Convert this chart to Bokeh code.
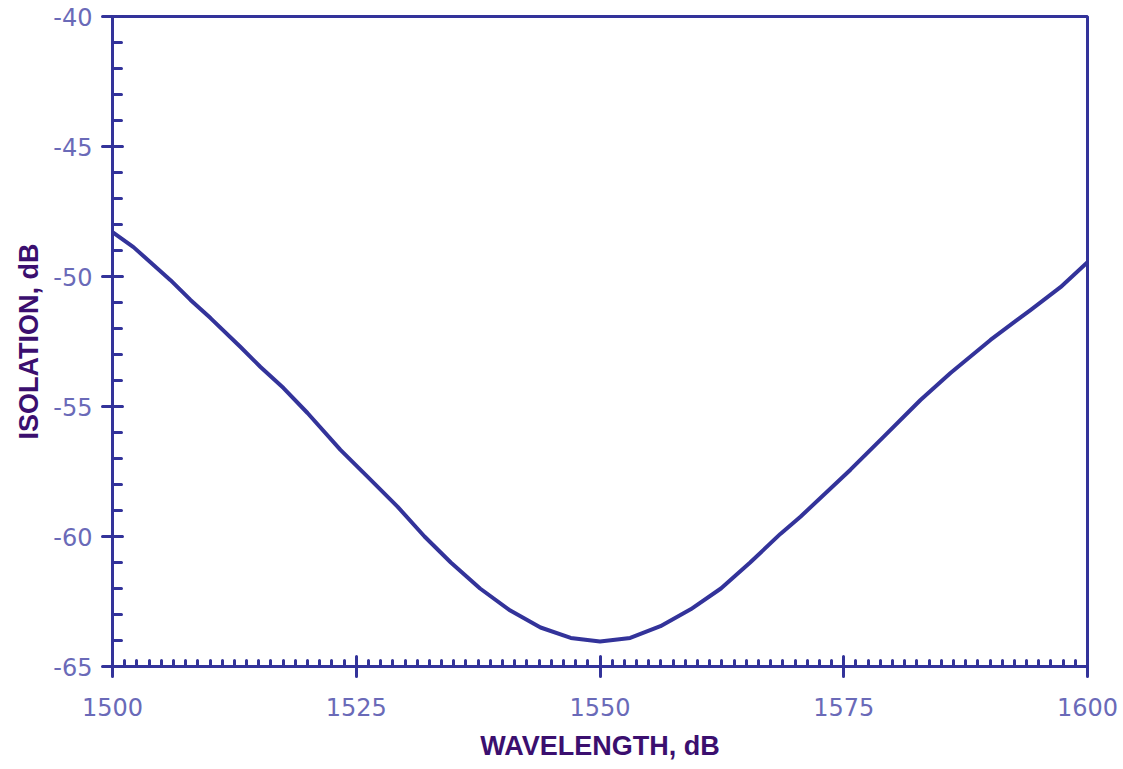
from bokeh.plotting import figure
from bokeh.models import FixedTicker, Range1d, PrintfTickFormatter
from bokeh.embed import file_html
from bokeh.resources import INLINE
import numpy as np

wavelength = [1500.0, 1502.15, 1505.95, 1508.0, 1510.05, 1513.13, 1515.18, 1517.54, 1520.0,
              1523.38, 1526.15, 1529.23, 1532.0, 1534.7, 1537.7, 1540.8, 1543.9, 1547.0,
              1550.0, 1553.1, 1556.2, 1559.3, 1562.4, 1565.4, 1568.5, 1570.56, 1575.69,
              1579.08, 1582.87, 1585.95, 1590.05, 1594.15, 1597.23, 1600.0]
isolation = [-48.29, -48.87, -50.14, -50.9, -51.6, -52.71, -53.48, -54.29, -55.25,
             -56.67, -57.7, -58.85, -60.0, -61.0, -62.0, -62.85, -63.5, -63.9,
             -64.04, -63.9, -63.45, -62.8, -62.0, -61.0, -59.9, -59.24, -57.43,
             -56.17, -54.75, -53.71, -52.44, -51.29, -50.41, -49.45]

x_ticks = [1500, 1525, 1550, 1575, 1600]
y_ticks = [-65, -60, -55, -50, -45, -40]

LINE = "#33339a"
LABEL = "#6a6ab8"
TITLE = "#3b0f6f"

p = figure(width=1118, height=763, output_backend="svg", toolbar_location=None,
           x_range=Range1d(1500, 1600), y_range=Range1d(-65, -40),
           min_border_left=112, min_border_right=31, min_border_top=16, min_border_bottom=96)
p.background_fill_color = "white"
p.border_fill_color = "white"
p.grid.visible = False
p.outline_line_color = LINE
p.outline_line_width = 3

p.line(wavelength, isolation, line_color=LINE, line_width=4, line_join="round")

p.xaxis.ticker = FixedTicker(ticks=x_ticks, minor_ticks=list(np.arange(1500, 1600.01, 1.25)))
p.yaxis.ticker = FixedTicker(ticks=y_ticks, minor_ticks=list(range(-65, -39)))
p.xaxis.formatter = PrintfTickFormatter(format="%d")
p.yaxis.formatter = PrintfTickFormatter(format="%d")

for ax in (p.xaxis, p.yaxis):
    ax.axis_line_color = LINE
    ax.axis_line_width = 3
    ax.major_tick_line_color = LINE
    ax.major_tick_line_width = 3
    ax.minor_tick_line_color = LINE
    ax.minor_tick_line_width = 3
    ax.major_tick_line_cap = "round"
    ax.minor_tick_line_cap = "round"
    ax.major_label_text_color = LABEL
    ax.major_label_text_font = "DejaVu Sans"
    ax.major_label_text_font_size = "24px"
    ax.axis_label_text_color = TITLE
    ax.axis_label_text_font = "Liberation Sans"
    ax.axis_label_text_font_style = "bold"
    ax.axis_label_text_font_size = "27px"

p.xaxis.major_tick_in = 10
p.xaxis.major_tick_out = 10
p.xaxis.minor_tick_in = 6
p.xaxis.minor_tick_out = 0
p.xaxis.major_label_standoff = 21
p.xaxis.axis_label = "WAVELENGTH, dB"
p.xaxis.axis_label_standoff = 12

p.yaxis.major_tick_in = 10
p.yaxis.major_tick_out = 10
p.yaxis.minor_tick_in = 9
p.yaxis.minor_tick_out = 0
p.yaxis.major_label_standoff = 10
p.yaxis.axis_label = "ISOLATION, dB"
p.yaxis.axis_label_standoff = 6

open("out.html", "w").write(file_html(p, INLINE))
